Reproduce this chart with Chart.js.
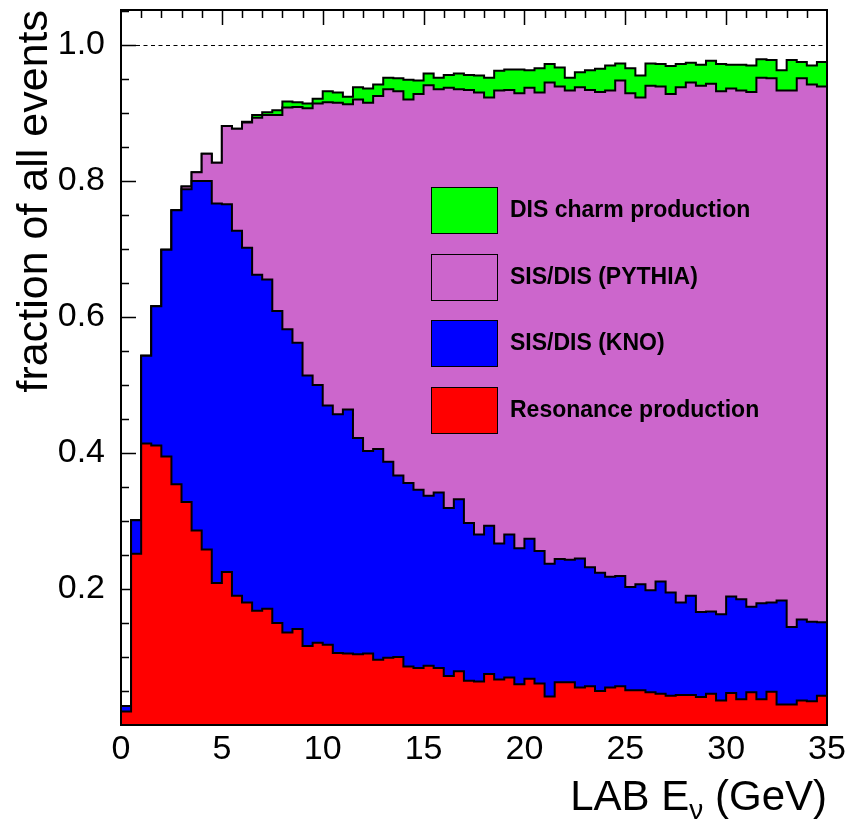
<!DOCTYPE html>
<html>
<head>
<meta charset="utf-8">
<script src="https://cdn.jsdelivr.net/npm/chart.js@4.4.1/dist/chart.umd.min.js"></script>
<style>
  body { margin: 0; background: #fff; }
</style>
</head>
<body>
<canvas id="chart" width="852" height="824"></canvas>
<script>
// 70 bins of 0.5 GeV from 0 to 35 GeV
const eMin = 0;
const eMax = 35;
const binWidth = 0.5;

// stacked fractions: each array is the top edge of that layer (cumulative)
const resonance = [0.020, 0.252, 0.414, 0.411, 0.395, 0.354, 0.328, 0.286, 0.258, 0.209,
  0.225, 0.190, 0.180, 0.168, 0.171, 0.150, 0.136, 0.141, 0.116, 0.121,
  0.118, 0.106, 0.105, 0.104, 0.105, 0.096, 0.099, 0.100, 0.086, 0.084,
  0.087, 0.084, 0.072, 0.079, 0.065, 0.064, 0.075, 0.067, 0.070, 0.060,
  0.068, 0.061, 0.042, 0.063, 0.063, 0.055, 0.057, 0.050, 0.055, 0.057,
  0.051, 0.051, 0.048, 0.046, 0.043, 0.044, 0.044, 0.041, 0.046, 0.036,
  0.047, 0.038, 0.048, 0.038, 0.049, 0.030, 0.030, 0.036, 0.035, 0.043];

const sisKno = [0.028, 0.301, 0.543, 0.616, 0.699, 0.757, 0.788, 0.800, 0.800, 0.767,
  0.766, 0.727, 0.702, 0.662, 0.655, 0.609, 0.582, 0.562, 0.514, 0.500,
  0.470, 0.457, 0.464, 0.422, 0.403, 0.406, 0.387, 0.367, 0.356, 0.346,
  0.337, 0.342, 0.319, 0.332, 0.297, 0.280, 0.293, 0.267, 0.280, 0.260,
  0.274, 0.256, 0.237, 0.244, 0.243, 0.245, 0.232, 0.224, 0.218, 0.219,
  0.203, 0.207, 0.198, 0.211, 0.195, 0.180, 0.190, 0.166, 0.167, 0.163,
  0.189, 0.185, 0.174, 0.179, 0.180, 0.183, 0.144, 0.155, 0.152, 0.151];

const sisPythia = [0.028, 0.301, 0.543, 0.616, 0.699, 0.757, 0.792, 0.813, 0.840, 0.827,
  0.881, 0.877, 0.886, 0.893, 0.897, 0.897, 0.908, 0.909, 0.907, 0.914,
  0.916, 0.915, 0.913, 0.920, 0.915, 0.925, 0.935, 0.932, 0.920, 0.928,
  0.941, 0.935, 0.937, 0.935, 0.934, 0.930, 0.923, 0.933, 0.934, 0.929,
  0.937, 0.930, 0.945, 0.939, 0.933, 0.938, 0.934, 0.931, 0.933, 0.948,
  0.929, 0.923, 0.940, 0.939, 0.928, 0.938, 0.945, 0.940, 0.943, 0.932,
  0.936, 0.933, 0.931, 0.952, 0.951, 0.933, 0.933, 0.951, 0.942, 0.939];

const disCharm = [0.028, 0.301, 0.543, 0.616, 0.699, 0.757, 0.792, 0.813, 0.840, 0.827,
  0.881, 0.877, 0.887, 0.897, 0.901, 0.904, 0.917, 0.916, 0.914, 0.921,
  0.932, 0.930, 0.924, 0.938, 0.936, 0.942, 0.952, 0.951, 0.949, 0.948,
  0.958, 0.952, 0.956, 0.958, 0.956, 0.955, 0.952, 0.962, 0.964, 0.964,
  0.963, 0.966, 0.972, 0.967, 0.952, 0.960, 0.963, 0.965, 0.970, 0.973,
  0.966, 0.955, 0.973, 0.972, 0.969, 0.972, 0.974, 0.971, 0.977, 0.972,
  0.971, 0.971, 0.970, 0.979, 0.978, 0.963, 0.978, 0.975, 0.970, 0.975];

const xTicks = [0, 5, 10, 15, 20, 25, 30, 35];
const yTicks = [0.2, 0.4, 0.6, 0.8, 1.0];
const legendLabels = ['DIS charm production', 'SIS/DIS (PYTHIA)', 'SIS/DIS (KNO)', 'Resonance production'];
const colors = ['#00ff00', '#cc66cc', '#0000ff', '#ff0000'];

function toSteps(vals) {
    const pts = vals.map((v, i) => ({ x: eMin + i * binWidth, y: v }));
    pts.push({ x: eMax, y: vals[vals.length - 1] });
    return pts;
}

const fontName = '"Liberation Sans", Arial, Helvetica, sans-serif';

const rootStyle = {
    id: 'rootStyle',
    beforeDatasetsDraw(chart) {
        // inward ticks, hidden by the fills like in the original
        const ctx = chart.ctx;
        const a = chart.chartArea;
        const xs = chart.scales.x, ys = chart.scales.y;
        ctx.save();
        ctx.strokeStyle = '#000';
        ctx.lineWidth = 1.5;
        ctx.beginPath();
        for (let i = 1; i <= 21; i++) {
            const v = i * 0.05;
            const y = Math.round(ys.getPixelForValue(v)) + 0.5;
            const len = (i % 4 === 0) ? 15 : 8;
            ctx.moveTo(a.left, y);
            ctx.lineTo(a.left + len, y);
        }
        for (let e = 1; e < 35; e++) {
            const x = Math.round(xs.getPixelForValue(e)) + 0.5;
            const len = (e % 5 === 0) ? 15 : 8;
            ctx.moveTo(x, a.top);
            ctx.lineTo(x, a.top + len);
            ctx.moveTo(x, a.bottom);
            ctx.lineTo(x, a.bottom - len);
        }
        ctx.stroke();
        ctx.restore();
    },
    afterDatasetsDraw(chart) {
        const ctx = chart.ctx;
        const a = chart.chartArea;
        const ys = chart.scales.y;
        ctx.save();

        // dashed line at 1
        const y1 = Math.round(ys.getPixelForValue(1.0)) + 0.5;
        ctx.setLineDash([4, 3.5]);
        ctx.lineWidth = 1;
        ctx.strokeStyle = '#000';
        ctx.beginPath();
        ctx.moveTo(a.left, y1);
        ctx.lineTo(a.right, y1);
        ctx.stroke();
        ctx.setLineDash([]);

        // frame
        ctx.lineWidth = 2;
        ctx.strokeRect(a.left, a.top, a.right - a.left, a.bottom - a.top);

        // legend
        const bx = 431, bw = 66, bh = 46;
        const boxTops = [187, 254, 320, 387];
        ctx.font = 'bold 23px ' + fontName;
        ctx.textBaseline = 'middle';
        ctx.textAlign = 'left';
        legendLabels.forEach((lab, i) => {
            ctx.fillStyle = colors[i];
            ctx.fillRect(bx, boxTops[i], bw, bh);
            ctx.lineWidth = 1;
            ctx.strokeStyle = '#000';
            ctx.strokeRect(bx + 0.5, boxTops[i] + 0.5, bw, bh);
            ctx.fillStyle = '#000';
            ctx.fillText(lab, 510, boxTops[i] + bh / 2 + 1);
        });

        // axis titles
        ctx.textBaseline = 'alphabetic';
        ctx.font = '43px ' + fontName;
        ctx.save();
        ctx.translate(47, a.top);
        ctx.rotate(-Math.PI / 2);
        ctx.textAlign = 'right';
        ctx.fillText('fraction of all events', 0, 0);
        ctx.restore();

        const base = 810;
        const p1 = 'LAB E', sub = 'ν', p2 = ' (GeV)';
        ctx.font = '42px ' + fontName;
        const w1 = ctx.measureText(p1).width;
        const w3 = ctx.measureText(p2).width;
        ctx.font = '28px ' + fontName;
        const w2 = ctx.measureText(sub).width;
        let x = a.right - (w1 + w2 + w3);
        ctx.textAlign = 'left';
        ctx.font = '42px ' + fontName;
        ctx.fillText(p1, x, base);
        x += w1;
        ctx.font = '28px ' + fontName;
        ctx.fillText(sub, x, base + 9);
        x += w2;
        ctx.font = '42px ' + fontName;
        ctx.fillText(p2, x, base);
        ctx.restore();
    }
};

const common = { borderColor: '#000', borderWidth: 2, stepped: 'before', pointRadius: 0, tension: 0 };

new Chart(document.getElementById('chart'), {
    type: 'line',
    data: {
        datasets: [
            { ...common, label: legendLabels[3], data: toSteps(resonance), backgroundColor: colors[3], fill: 'origin' },
            { ...common, label: legendLabels[2], data: toSteps(sisKno), backgroundColor: colors[2], fill: '-1' },
            { ...common, label: legendLabels[1], data: toSteps(sisPythia), backgroundColor: colors[1], fill: '-1' },
            { ...common, label: legendLabels[0], data: toSteps(disCharm), backgroundColor: colors[0], fill: '-1' }
        ]
    },
    options: {
        responsive: false,
        animation: false,
        devicePixelRatio: 1,
        layout: { padding: { left: 0, right: 25, top: 10, bottom: 0 } },
        plugins: { legend: { display: false }, tooltip: { enabled: false } },
        scales: {
            x: {
                type: 'linear',
                min: eMin,
                max: eMax,
                grid: { display: false, drawTicks: false },
                border: { display: false },
                afterBuildTicks: s => { s.ticks = xTicks.map(v => ({ value: v })); },
                afterFit: s => { s.height = 99; s.paddingLeft = 0; s.paddingRight = 0; },
                ticks: {
                    color: '#000',
                    padding: 4,
                    maxRotation: 0,
                    autoSkip: false,
                    font: { family: fontName, size: 34 }
                }
            },
            y: {
                type: 'linear',
                min: 0,
                max: 1.0515,
                grid: { display: false, drawTicks: false },
                border: { display: false },
                afterBuildTicks: s => { s.ticks = yTicks.map(v => ({ value: v })); },
                afterFit: s => { s.width = 121; s.paddingTop = 0; s.paddingBottom = 0; },
                ticks: {
                    color: '#000',
                    padding: 16,
                    font: { family: fontName, size: 34 },
                    callback: v => v.toFixed(1)
                }
            }
        }
    },
    plugins: [rootStyle]
});
</script>
</body>
</html>
